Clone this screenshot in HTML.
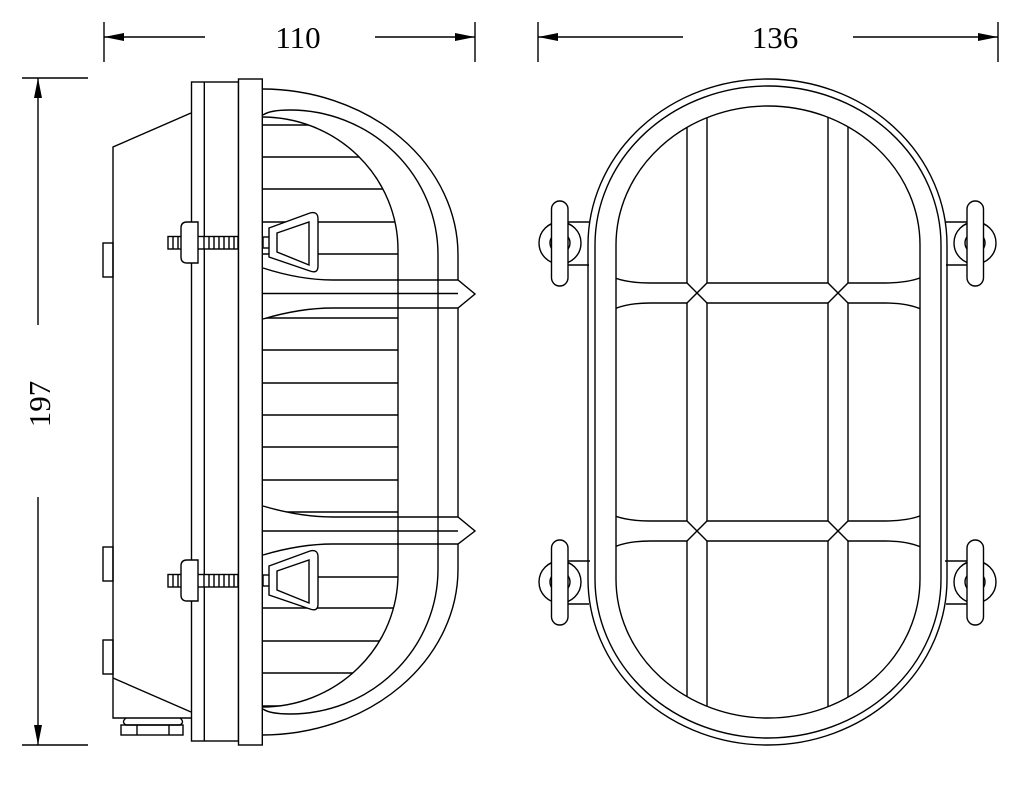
<!DOCTYPE html>
<html><head><meta charset="utf-8"><style>
html,body{margin:0;padding:0;background:#fff;}
svg{display:block;}
text{font-family:"Liberation Serif",serif;font-size:31px;fill:#000;}
</style></head><body>
<svg width="1032" height="785" viewBox="0 0 1032 785" xmlns="http://www.w3.org/2000/svg">
<defs>
<clipPath id="glass"><path d="M262,117 A136,133 0 0 1 398,250 L398,574 A136,133 0 0 1 262,707 Z"/></clipPath>
<clipPath id="inner"><path d="M616,245 A152,139 0 0 1 920,245 L920,579 A152,139 0 0 1 616,579 Z"/></clipPath>
</defs>
<g fill="none" stroke="#000" stroke-width="1.4">
<line x1="104" y1="22" x2="104" y2="62"/><line x1="475" y1="22" x2="475" y2="62"/>
<line x1="104" y1="37" x2="205" y2="37"/><line x1="375" y1="37" x2="475" y2="37"/>
<line x1="538" y1="22" x2="538" y2="62"/><line x1="998" y1="22" x2="998" y2="62"/>
<line x1="538" y1="37" x2="683" y2="37"/><line x1="853" y1="37" x2="998" y2="37"/>
<line x1="22" y1="78" x2="88" y2="78"/><line x1="22" y1="745" x2="88" y2="745"/>
<line x1="38" y1="78" x2="38" y2="325"/><line x1="38" y1="497" x2="38" y2="745"/>
</g>
<g fill="#000">
<path d="M104,37 L124,33 L124,41 Z"/><path d="M475,37 L455,33 L455,41 Z"/>
<path d="M538,37 L558,33 L558,41 Z"/><path d="M998,37 L978,33 L978,41 Z"/>
<path d="M38,78 L34,98 L42,98 Z"/><path d="M38,745 L34,725 L42,725 Z"/>
</g>
<text x="298" y="48" text-anchor="middle">110</text>
<text x="775" y="48" text-anchor="middle">136</text>
<text transform="translate(50,404) rotate(-90)" text-anchor="middle">197</text>

<g fill="none" stroke="#000" stroke-width="1.4">
<path d="M191,113 L113,147 L113,718 L191,718 M113,678 L191,712"/>
<rect x="103" y="243" width="10" height="34"/>
<rect x="103" y="547" width="10" height="34"/>
<rect x="103" y="640" width="10" height="34"/>
<path d="M126,718 Q121,722 126,725 L180,725 Q185,722 180,718"/>
<rect x="121" y="725" width="62" height="10"/>
<line x1="137" y1="725" x2="137" y2="735"/><line x1="169" y1="725" x2="169" y2="735"/>
<rect x="191.5" y="82" width="47" height="659" fill="#fff"/>
<line x1="204.3" y1="82" x2="204.3" y2="741"/>
<rect x="238.5" y="79" width="23.8" height="666" fill="#fff"/>
<g clip-path="url(#glass)">
<path d="M262,125H400M262,157H400M262,189H400M262,222H400M262,254H400M262,318H400M262,350H400M262,383H400M262,415H400M262,447H400M262,480H400M262,512H400M262,577H400M262,608H400M262,641H400M262,673H400M262,706H400"/>
</g>
<path d="M262,117 A136,133 0 0 1 398,250 L398,574 A136,133 0 0 1 262,707"/>
<path d="M263,115 Q270,110 290,110 A148,145 0 0 1 438,255 L438,569 A148,145 0 0 1 290,714 Q270,714 263,709"/>
<path d="M262,89 A196,166 0 0 1 458,255 L458,569 A196,166 0 0 1 262,735"/>
<path d="M263,268 Q300,280 333,280 L458,280 L475,294 L458,308 L333,308 Q300,308 263,319" fill="#fff"/>
<line x1="262" y1="293.5" x2="458" y2="293.5"/>
<line x1="398" y1="280" x2="398" y2="308"/><line x1="438" y1="280" x2="438" y2="308"/>
<path d="M263,506 Q300,517 333,517 L458,517 L475,531 L458,544 L333,544 Q300,544 263,555" fill="#fff"/>
<line x1="262" y1="531" x2="458" y2="531"/>
<line x1="398" y1="517" x2="398" y2="544"/><line x1="438" y1="517" x2="438" y2="544"/>
<g id="bolt">
<rect x="168" y="236.5" width="70" height="12.5" fill="#fff"/>
<path d="M173,236.5v12.5M178,236.5v12.5M204,236.5v12.5M209,236.5v12.5M214,236.5v12.5M219,236.5v12.5M224,236.5v12.5M229,236.5v12.5M234,236.5v12.5"/>
<path d="M198,222 L187,222 Q181,222 181,228 L181,257 Q181,263 187,263 L198,263 Z" fill="#fff"/>
<rect x="263" y="237" width="14" height="11" fill="#fff"/>
<path d="M269,228 L310,213 Q318,211 318,219 L318,266 Q318,274 310,271 L269,257 Z" fill="#fff"/>
<path d="M277,233 L309,222 L309,265 L277,252 Z"/>
</g>
<use href="#bolt" transform="translate(0,338)"/>
<path d="M588,245 A179.5,166 0 0 1 947,245 L947,579 A179.5,166 0 0 1 588,579 Z"/>
<path d="M595,245 A173,159 0 0 1 941,245 L941,579 A173,159 0 0 1 595,579 Z"/>
<path d="M616,245 A152,139 0 0 1 920,245 L920,579 A152,139 0 0 1 616,579 Z"/>
<g clip-path="url(#inner)">
<path d="M687,100V283M707,100V283M828,100V283M848,100V283M687,303V521M707,303V521M828,303V521M848,303V521M687,541V730M707,541V730M828,541V730M848,541V730"/>
<path d="M610,276 Q625,283 650,283 L687,283 L707,303 M687,303 L707,283 L828,283 L848,303 M828,303 L848,283 L885,283 Q910,283 925,276"/>
<path d="M610,311 Q625,303 650,303 L687,303 M707,303 L828,303 M848,303 L885,303 Q910,303 925,311"/>
<path d="M610,514 Q625,521 650,521 L687,521 L707,541 M687,541 L707,521 L828,521 L848,541 M828,541 L848,521 L885,521 Q910,521 925,514"/>
<path d="M610,549 Q625,541 650,541 L687,541 M707,541 L828,541 M848,541 L885,541 Q910,541 925,549"/>
</g>
<g id="ear">
<path d="M568,222 L590,222 M568,265 L589,265"/>
<circle cx="560" cy="243" r="21" fill="#fff"/>
<ellipse cx="560" cy="243" rx="10" ry="10"/>
<rect x="551.5" y="201" width="16.5" height="85" rx="8.2" fill="#fff"/>
</g>
<use href="#ear" transform="translate(0,339)"/>
<use href="#ear" transform="translate(1535,0) scale(-1,1)"/>
<use href="#ear" transform="translate(1535,339) scale(-1,1)"/>
</g>
</svg>
</body></html>
